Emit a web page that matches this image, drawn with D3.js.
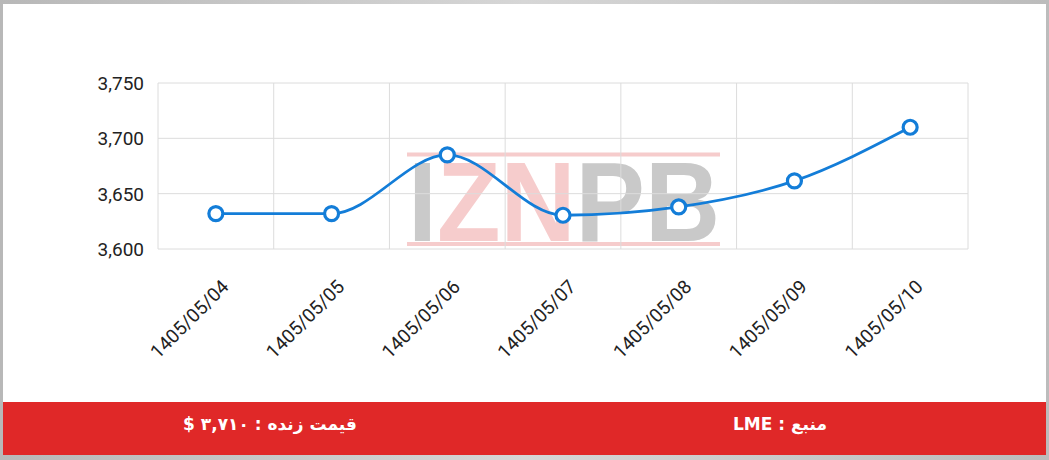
<!DOCTYPE html>
<html><head><meta charset="utf-8">
<script src="https://cdn.jsdelivr.net/npm/d3@7"></script>
<style>
html,body{margin:0;padding:0;background:#c4c4c4;}
svg{display:block;}
</style></head>
<body>
<svg id="c" width="1049" height="460"></svg>
<script>
const categories = ["1405/05/04","1405/05/05","1405/05/06","1405/05/07","1405/05/08","1405/05/09","1405/05/10"];
const values = [3632, 3632, 3685, 3630.5, 3638, 3661.5, 3710];
const yTicks = [3600, 3650, 3700, 3750];
const footerPrice = "قیمت زنده : ۳,۷۱۰ $";
const footerSource = "منبع : LME";

const svg = d3.select("#c");
const W = 1049, H = 460;
const m = {left:158, right:968, top:83, bottom:249};

// frame
const bg = svg.append("defs").append("linearGradient").attr("id","fr").attr("x1","0").attr("x2","1");
bg.append("stop").attr("offset","0").attr("stop-color","#b8b8b8");
bg.append("stop").attr("offset","0.5").attr("stop-color","#d6d6d6");
bg.append("stop").attr("offset","1").attr("stop-color","#bcbcbc");
svg.append("rect").attr("width",W).attr("height",H).attr("fill","url(#fr)");
svg.append("rect").attr("x",3).attr("y",4).attr("width",1043).attr("height",451).attr("fill","#fff");

const x = d3.scaleBand().domain(categories).range([m.left, m.right]);
const y = d3.scaleLinear().domain([3600, 3750]).range([m.bottom, m.top]);

// watermark
const wm = svg.append("g");
wm.append("rect").attr("x",407).attr("y",152.5).attr("width",313).attr("height",4).attr("fill","#f6cccc");
wm.append("rect").attr("x",407).attr("y",242).attr("width",313).attr("height",4).attr("fill","#f6cccc");
const wt = wm.append("text").attr("x",408).attr("y",241)
  .attr("font-family","Liberation Sans, Arial, sans-serif").attr("font-weight","bold")
  .attr("font-size",114).attr("textLength",312).attr("lengthAdjust","spacingAndGlyphs");
wt.append("tspan").attr("fill","#cacaca").text("I");
wt.append("tspan").attr("fill","#f6cccc").text("ZN");
wt.append("tspan").attr("fill","#c9c9c9").text("PB");

// grid
const g = svg.append("g");
g.selectAll(".hy").data(yTicks).join("line")
  .attr("x1",m.left).attr("x2",m.right).attr("y1",d=>y(d)).attr("y2",d=>y(d))
  .attr("stroke","#dcdcdc").attr("stroke-width",1);
const vx = categories.map(c=>x(c)).concat([m.right]);
g.selectAll(".vx").data(vx).join("line")
  .attr("x1",d=>d).attr("x2",d=>d).attr("y1",m.top).attr("y2",m.bottom)
  .attr("stroke","#dcdcdc").attr("stroke-width",1);

// y labels
svg.append("g").selectAll("text").data(yTicks).join("text")
  .attr("x",144).attr("y",d=>y(d)).attr("dy","0.36em").attr("text-anchor","end")
  .attr("font-family","Roboto, sans-serif").attr("font-size",19).attr("fill","#222")
  .text(d=>d3.format(",")(d));

// x labels
svg.append("g").selectAll("text").data(categories).join("text")
  .attr("transform",d=>`translate(${x(d)+x.bandwidth()/2+14},288) rotate(-45)`)
  .attr("text-anchor","end")
  .attr("font-family","Roboto, sans-serif").attr("font-size",19).attr("fill","#222")
  .text(d=>d);

// line
const cx = d=>x(d)+x.bandwidth()/2;
const pts = categories.map((c,i)=>[cx(c), y(values[i])]);
svg.append("path").attr("d", d3.line().curve(d3.curveMonotoneX)(pts))
  .attr("fill","none").attr("stroke","#137dd8").attr("stroke-width",2.8);
svg.append("g").selectAll("circle").data(pts).join("circle")
  .attr("cx",d=>d[0]).attr("cy",d=>d[1]).attr("r",7)
  .attr("fill","#fff").attr("stroke","#137dd8").attr("stroke-width",3.2);

// footer
svg.append("rect").attr("x",3).attr("y",402).attr("width",1043).attr("height",53).attr("fill","#e02828");
svg.append("text").attr("x",270).attr("y",430).attr("text-anchor","middle").attr("direction","rtl")
  .attr("font-family","DejaVu Sans, sans-serif").attr("font-weight","bold").attr("font-size",17).attr("fill","#fff")
  .text(footerPrice);
svg.append("text").attr("x",780).attr("y",430).attr("text-anchor","middle").attr("direction","rtl")
  .attr("font-family","DejaVu Sans, sans-serif").attr("font-weight","bold").attr("font-size",17).attr("fill","#fff")
  .text(footerSource);
</script>
</body></html>
